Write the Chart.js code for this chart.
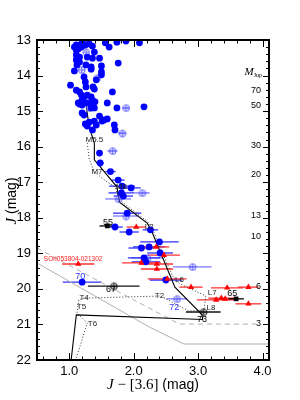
<!DOCTYPE html>
<html lang="en">
<head>
<meta charset="UTF-8">
<title>J vs J-[3.6]</title>
<style>
  html, body { margin: 0; padding: 0; background: #fff; }
  #chart { display: block; }
</style>
</head>
<body>
<canvas id="chart" width="300" height="400"></canvas>
<script src="https://cdn.jsdelivr.net/npm/chart.js"></script>
<script>
// bright blue members (filled circles)
const blueX = [1.11, 1.08, 1.11, 1.14, 1.19, 1.20, 1.25, 1.31, 1.36, 1.56, 1.62, 1.74, 1.88, 2.09,
  1.11, 1.16, 1.11, 1.39, 1.36, 1.28, 1.47, 1.26, 1.16, 1.12, 1.08, 1.34, 1.34, 1.50, 1.76, 1.50,
  1.50, 1.42, 1.23, 1.25, 1.26, 1.37, 1.39, 1.02, 1.11, 1.16, 1.19, 1.23, 1.28, 1.34, 1.20, 1.36,
  1.19, 1.14, 1.16, 1.20, 1.28, 1.36, 1.40, 1.34, 1.39, 1.67, 1.59, 1.74, 2.16, 1.20, 1.23, 1.31,
  1.25, 1.28, 1.39, 1.47, 1.51, 1.54, 1.59, 1.70, 1.71, 1.42, 1.36, 1.47, 1.48, 1.64, 1.76,
  1.82, 1.96, 1.81, 1.84, 1.90, 1.71, 1.93, 2.26, 2.40, 2.24, 2.12, 2.41, 2.16, 2.19, 2.50, 1.20];
const blueJ = [13.14, 13.20, 13.28, 13.25, 13.20, 13.08, 13.14, 13.11, 13.17, 13.08, 13.20, 13.06, 13.03, 13.08,
  13.42, 13.48, 13.56, 13.34, 13.51, 13.48, 13.51, 13.70, 13.62, 13.70, 13.87, 13.76, 13.82, 13.73, 13.65, 13.90,
  13.98, 14.12, 14.04, 14.18, 14.32, 14.32, 14.38, 14.27, 14.41, 14.46, 14.55, 14.60, 14.55, 14.60, 14.69, 14.69,
  14.74, 14.77, 14.80, 14.83, 14.77, 14.77, 14.74, 14.91, 14.91, 14.46, 14.77, 14.91, 14.88, 15.05, 15.11, 15.31,
  15.36, 15.42, 15.28, 15.14, 15.28, 15.25, 15.22, 15.39, 15.53, 15.39, 15.53, 16.18, 16.46, 16.70, 16.94,
  17.11, 17.16, 17.30, 17.39, 17.87, 18.26, 18.40, 18.34, 18.68, 18.82, 18.85, 18.99, 19.13, 19.24, 19.75, 19.81];
const blueErr = [0, 0, 0, 0, 0, 0, 0, 0, 0, 0, 0, 0, 0, 0,
  0, 0, 0, 0, 0, 0, 0, 0, 0, 0, 0, 0, 0, 0, 0, 0,
  0, 0, 0, 0, 0, 0, 0, 0, 0, 0, 0, 0, 0, 0, 0, 0,
  0, 0, 0, 0, 0, 0, 0, 0, 0, 0, 0, 0, 0, 0, 0, 0,
  0, 0, 0, 0, 0, 0, 0, 0, 0, 0, 0, 0, 0.06, 0.08, 0.1,
  0.2, 0.15, 0.2, 0.15, 0.22, 0.12, 0.15, 0.12, 0.3, 0.25, 0.2, 0.2, 0.25, 0.22, 0.25, 0.3];

// light blue candidates (crossed circles)
const candX = [1.26, 1.26, 1.19, 1.43, 1.31, 1.88, 1.82, 1.67, 2.13, 1.76, 1.88, 2.21, 2.91, 2.67];
const candJ = [13.06, 13.34, 13.84, 14.07, 14.91, 14.91, 15.62, 16.12, 17.30, 17.47, 17.95, 19.13, 19.38, 20.28];
const candErr = [0, 0, 0, 0, 0, 0.06, 0.06, 0.08, 0.12, 0.2, 0.2, 0.25, 0.3, 0.16];

// red triangles
const redX = [2.04, 2.35, 2.47, 2.12, 2.36, 2.36, 2.52, 2.89, 3.45, 3.78, 3.28, 3.36, 3.42, 3.78, 1.14];
const redJ = [18.26, 18.82, 19.05, 19.27, 19.30, 19.44, 19.72, 19.95, 19.97, 19.95, 20.31, 20.26, 20.28, 20.42, 19.30];
const redErr = [0.15, 0.2, 0.25, 0.3, 0.25, 0.25, 0.3, 0.18, 0.25, 0.16, 0.3, 0.2, 0.2, 0.2, 0.25];

// black squares and black crossed circles
const sqX = [1.59, 3.59];
const sqJ = [18.23, 20.28];
const sqErr = [0.12, 0.12];
const bcX = [1.69, 3.08];
const bcJ = [19.92, 20.65];
const bcErr = [0.4, 0.27];

// sequences
const solidX = [1.26, 1.31, 1.39, 1.39, 1.74, 1.78, 2.21, 2.27, 2.64, 3.06, 3.07, 1.11, 1.03];
const solidJ = [14.80, 15.45, 15.90, 16.37, 17.13, 17.56, 18.15, 18.34, 19.95, 20.72, 20.86, 20.73, 22.0];
const dotX = [1.28, 1.31, 1.39, 1.57, 1.71, 1.78, 2.21, 2.30, 2.45, 2.62, 2.71, 3.12, 3.09, 2.85, 2.42, 1.23, 1.15, 1.12, 1.28, 1.11];
const dotJ = [15.90, 16.35, 16.71, 16.97, 17.13, 17.50, 18.10, 18.35, 19.00, 19.70, 19.85, 20.20, 20.60, 20.62, 20.20, 20.26, 20.30, 20.68, 20.96, 21.94];
const graySolidX = [0.5, 2.24, 2.78, 4.1];
const graySolidJ = [19.27, 21.07, 21.55, 21.55];
const grayDashX = [0.5, 2.24, 2.71, 3.9];
const grayDashJ = [18.85, 20.54, 20.99, 20.99];

// annotations
const sptText = ['M5.5', 'M7', 'M8', 'L2', 'L6', 'L7', 'L8', 'T2', 'T4', 'T5', 'T6'];
const sptX = [1.39, 1.43, 1.81, 2.24, 2.71, 3.22, 3.20, 2.40, 1.23, 1.19, 1.36];
const sptJ = [15.81, 16.71, 17.13, 18.26, 19.75, 20.12, 20.54, 20.20, 20.26, 20.51, 20.99];
const objText = ['55', '65', '67', '70', '72', '73', 'SOri053804-021302'];
const objX = [1.60, 3.53, 1.65, 1.17, 2.63, 3.06, 1.06];
const objJ = [18.12, 20.14, 20.03, 19.66, 20.51, 20.87, 19.16];
const objColor = ['#000', '#000', '#000', '#3333ff', '#3333ff', '#000', '#ff2020'];

// mass scale (right side)
const massLabels = ['70', '50', '30', '20', '13', '10', '6', '3'];
const massJ = [14.41, 14.83, 15.98, 16.77, 17.95, 18.54, 19.92, 20.96];
const massTitleJ = 13.9;

const xTicks = [1, 2, 3, 4];

function pts(xs, ys) {
  return xs.map((v, i) => ({ x: v, y: ys[i] }));
}

function crossCircle(color, r) {
  const c = document.createElement('canvas');
  const s = 2 * r + 3;
  c.width = s; c.height = s;
  const g = c.getContext('2d');
  g.strokeStyle = color; g.lineWidth = 1;
  g.beginPath(); g.arc(s / 2, s / 2, r, 0, Math.PI * 2); g.stroke();
  g.beginPath();
  g.moveTo(s / 2 - r, s / 2); g.lineTo(s / 2 + r, s / 2);
  g.moveTo(s / 2, s / 2 - r); g.lineTo(s / 2, s / 2 + r);
  g.stroke();
  return c;
}

/* horizontal error bars under the markers */
const errorBars = {
  id: 'errorBars',
  beforeDatasetsDraw(chart) {
    const { ctx, chartArea, scales: { x, y } } = chart;
    ctx.save();
    ctx.beginPath();
    ctx.rect(chartArea.left, chartArea.top, chartArea.right - chartArea.left, chartArea.bottom - chartArea.top);
    ctx.clip();
    chart.data.datasets.forEach(ds => {
      if (!ds.xErr) return;
      ctx.strokeStyle = ds.errColor;
      ctx.lineWidth = 1.3;
      ds.data.forEach((p, i) => {
        const e = ds.xErr[i];
        if (!e) return;
        const py = y.getPixelForValue(p.y);
        ctx.beginPath();
        ctx.moveTo(x.getPixelForValue(p.x - e), py);
        ctx.lineTo(x.getPixelForValue(p.x + e), py);
        ctx.stroke();
      });
    });
    ctx.restore();
  }
};

/* text labels, frame, inward ticks, axis titles, mass scale */
const decorations = {
  id: 'decorations',
  afterDatasetsDraw(chart) {
    const { ctx, scales: { x, y } } = chart;
    ctx.save();
    ctx.textAlign = 'center';
    ctx.textBaseline = 'middle';
    ctx.fillStyle = '#222';
    ctx.font = '8px "Liberation Sans", Arial, sans-serif';
    sptText.forEach((t, i) => ctx.fillText(t, x.getPixelForValue(sptX[i]), y.getPixelForValue(sptJ[i])));
    objText.forEach((t, i) => {
      ctx.fillStyle = objColor[i];
      ctx.font = (t.length > 4 ? '6.5px' : '9px') + ' "Liberation Sans", Arial, sans-serif';
      ctx.fillText(t, x.getPixelForValue(objX[i]), y.getPixelForValue(objJ[i]));
    });
    ctx.restore();
  },
  afterDraw(chart) {
    const { ctx, chartArea: a, scales: { x, y } } = chart;
    ctx.save();
    ctx.strokeStyle = '#000';
    // ticks
    ctx.lineWidth = 1;
    ctx.beginPath();
    for (let k = 0; k <= 45; k++) {
      const v = 13 + k * 0.2;
      const py = Math.round(y.getPixelForValue(v)) + 0.5;
      const len = (k % 5 === 0) ? 6 : 3;
      ctx.moveTo(a.left, py); ctx.lineTo(a.left + len, py);
      ctx.moveTo(a.right, py); ctx.lineTo(a.right - len, py);
    }
    for (let k = 3; k <= 20; k++) {
      const v = k * 0.2;
      const px = Math.round(x.getPixelForValue(v)) + 0.5;
      const len = (k % 5 === 0) ? 7 : 3.5;
      ctx.moveTo(px, a.bottom); ctx.lineTo(px, a.bottom - len);
      ctx.moveTo(px, a.top); ctx.lineTo(px, a.top + len);
    }
    ctx.stroke();
    // frame
    ctx.lineWidth = 2;
    ctx.strokeRect(a.left, a.top, a.right - a.left, a.bottom - a.top);

    // mass labels
    ctx.fillStyle = '#000';
    ctx.textAlign = 'right';
    ctx.textBaseline = 'middle';
    ctx.font = '9px "Liberation Sans", Arial, sans-serif';
    massLabels.forEach((t, i) => ctx.fillText(t, a.right - 8, y.getPixelForValue(massJ[i])));
    const my = y.getPixelForValue(massTitleJ);
    ctx.font = '6px "Liberation Serif", serif';
    const subW = ctx.measureText('Jup').width;
    ctx.fillText('Jup', a.right - 7, my + 3);
    ctx.font = 'italic 11px "Liberation Serif", serif';
    ctx.fillText('M', a.right - 7 - subW, my);

    // axis titles
    const xParts = [
      { t: 'J', f: 'italic 15px "Liberation Serif", serif' },
      { t: ' \u2212 [3.6]', f: '15px "Liberation Serif", serif' },
      { t: ' (mag)', f: '14px "Liberation Sans", Arial, sans-serif' }
    ];
    const drawParts = (parts, cx, cy) => {
      let w = 0;
      parts.forEach(p => { ctx.font = p.f; w += ctx.measureText(p.t).width; });
      let sx = cx - w / 2;
      ctx.textAlign = 'left';
      parts.forEach(p => { ctx.font = p.f; ctx.fillText(p.t, sx, cy); sx += ctx.measureText(p.t).width; });
    };
    ctx.textBaseline = 'alphabetic';
    drawParts(xParts, (a.left + a.right) / 2, 389);
    ctx.translate(16, (a.top + a.bottom) / 2 + 1);
    ctx.rotate(-Math.PI / 2);
    drawParts([
      { t: 'J', f: 'italic 15px "Liberation Serif", serif' },
      { t: ' (mag)', f: '14px "Liberation Sans", Arial, sans-serif' }
    ], 0, 0);
    ctx.restore();
  }
};

const ctx = document.getElementById('chart');
new Chart(ctx, {
  type: 'scatter',
  data: {
    datasets: [
      {
        label: 'candidates',
        data: pts(candX, candJ),
        xErr: candErr,
        errColor: '#7777ff',
        pointStyle: crossCircle('#5a5aff', 3.3),
        pointRadius: 4,
        order: 4
      },
      {
        label: 'members',
        data: pts(blueX, blueJ),
        xErr: blueErr,
        errColor: '#3030ff',
        backgroundColor: '#0000ff',
        borderColor: '#0000ff',
        pointRadius: 3.4,
        borderWidth: 0,
        order: 3
      },
      {
        label: 'red',
        data: pts(redX, redJ),
        xErr: redErr,
        errColor: '#ff3030',
        backgroundColor: '#ff0000',
        borderColor: '#ff0000',
        pointStyle: 'triangle',
        pointRadius: 3.6,
        borderWidth: 0,
        order: 2
      },
      {
        label: 'squares',
        data: pts(sqX, sqJ),
        xErr: sqErr,
        errColor: '#000',
        backgroundColor: '#000',
        borderColor: '#000',
        pointStyle: 'rect',
        pointRadius: 3.3,
        borderWidth: 0,
        order: 1
      },
      {
        label: 'black candidates',
        data: pts(bcX, bcJ),
        xErr: bcErr,
        errColor: '#111',
        pointStyle: crossCircle('#111', 3.3),
        pointRadius: 4,
        order: 1
      },
      {
        label: 'sequence',
        data: pts(solidX, solidJ),
        showLine: true, pointRadius: 0,
        borderColor: '#000', borderWidth: 1.1,
        order: 10
      },
      {
        label: 'sequence dotted',
        data: pts(dotX, dotJ),
        showLine: true, pointRadius: 0,
        borderColor: '#333', borderWidth: 1, borderDash: [1, 2],
        order: 10
      },
      {
        label: 'limit',
        data: pts(graySolidX, graySolidJ),
        showLine: true, pointRadius: 0,
        borderColor: '#b0b0b0', borderWidth: 1,
        order: 11
      },
      {
        label: 'limit dashed',
        data: pts(grayDashX, grayDashJ),
        showLine: true, pointRadius: 0,
        borderColor: '#b0b0b0', borderWidth: 1, borderDash: [5, 4],
        order: 11
      }
    ]
  },
  options: {
    responsive: false,
    animation: false,
    events: [],
    layout: { padding: { top: 40, right: 31, left: 0, bottom: 0 } },
    plugins: { legend: { display: false }, tooltip: { enabled: false } },
    scales: {
      x: {
        type: 'linear', min: 0.5, max: 4.1,
        afterFit: s => { s.height = 40; },
        afterBuildTicks: s => { s.ticks = xTicks.map(v => ({ value: v })); },
        grid: { display: false, drawTicks: false },
        border: { display: false },
        ticks: {
          padding: 4, color: '#000',
          font: { size: 13, family: '"Liberation Sans", Arial, sans-serif' },
          callback: v => v.toFixed(1)
        }
      },
      y: {
        type: 'linear', min: 13, max: 22, reverse: true,
        afterFit: s => { s.width = 37; },
        grid: { display: false, drawTicks: false },
        border: { display: false },
        ticks: {
          stepSize: 1, padding: 6, color: '#000',
          font: { size: 13, family: '"Liberation Sans", Arial, sans-serif' }
        }
      }
    }
  },
  plugins: [errorBars, decorations]
});
</script>
</body>
</html>
